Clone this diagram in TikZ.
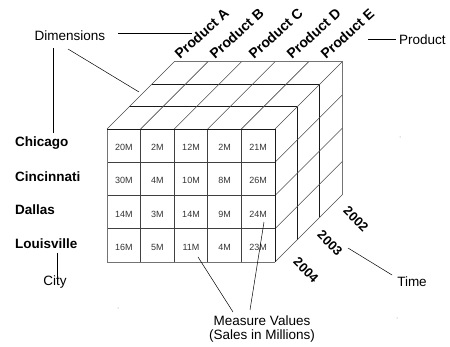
\documentclass[tikz,border=0pt]{standalone}
\usepackage{fontspec}
\setmainfont{Liberation Sans}
\begin{document}
\begin{tikzpicture}[x=1pt,y=-1pt,
  lbl/.style={inner sep=0pt,font=\fontsize{13.5}{14}\selectfont},
  blbl/.style={inner sep=0pt,font=\fontsize{13}{14}\selectfont\bfseries},
  plbl/.style={inner sep=0pt,font=\fontsize{14}{14}\selectfont\bfseries,rotate=42,anchor=base west},
  val/.style={inner sep=0pt,font=\fontsize{9}{10}\selectfont,text=black!80},
  edge/.style={draw=black!55,line width=0.6pt},
  inner/.style={draw=black!90,line width=0.7pt},
  diag/.style={draw=black!70,line width=0.6pt},
  front/.style={draw=black!75,line width=0.7pt},
  lead/.style={draw=black,line width=0.5pt}]
\useasboundingbox (0,0) rectangle (450,347);
\def\cw{33.6}\def\rh{33.25}\def\dd{22.4}
% top face
\foreach \k in {1,2} {
  \draw[inner] ({107+\k*\dd},{129-\k*\dd}) -- ({275+\k*\dd},{129-\k*\dd});
  \draw[inner] ({275+\k*\dd},{129-\k*\dd}) -- ({275+\k*\dd},{262-\k*\dd});
}
\draw[edge] ({107+3*\dd},{129-3*\dd}) -- ({275+3*\dd},{129-3*\dd}) -- ({275+3*\dd},{262-3*\dd});
\foreach \i in {0,...,5}
  \draw[diag] ({107+\i*\cw},129) -- ({107+\i*\cw+3*\dd},{129-3*\dd});
\foreach \j in {1,...,4}
  \draw[diag] (275,{129+\j*\rh}) -- ({275+3*\dd},{129+\j*\rh-3*\dd});
% front face
\foreach \i in {1,...,4}
  \draw[front] ({107+\i*\cw},129) -- ({107+\i*\cw},262);
\foreach \j in {1,...,3}
  \draw[front] (107,{129+\j*\rh}) -- (275,{129+\j*\rh});
\draw[edge] (275,262) -- (107,262) -- (107,129);
\draw[inner] (107,129) -- (275,129) -- (275,262);
% values
\foreach \row [count=\j from 0] in {{20M,2M,12M,2M,21M},{30M,4M,10M,8M,26M},{14M,3M,14M,9M,24M},{16M,5M,11M,4M,23M}} {
  \foreach \v [count=\i from 0] in \row
    \node[val] (v\j\i) at ({107+(\i+0.5)*\cw},{129+(\j+0.5)*\rh+2}) {\v};
}
% product labels
\node[plbl] (pa) at (180,60) {Product A};
\node[plbl] (pb) at (215,60) {Product B};
\node[plbl] (pc) at (254,60) {Product C};
\node[plbl] (pd) at (292,60) {Product D};
\node[plbl] (pe) at (326,60) {Product E};
% city labels
\node[blbl,anchor=west,font=\fontsize{13.5}{14}\selectfont\bfseries] (chi) at (15,143) {Chicago};
\node[blbl,anchor=west,font=\fontsize{13.5}{14}\selectfont\bfseries] (cin) at (15,177) {Cincinnati};
\node[blbl,anchor=west,font=\fontsize{13.5}{14}\selectfont\bfseries] (dal) at (15,210) {Dallas};
\node[blbl,anchor=west,font=\fontsize{13.5}{14}\selectfont\bfseries] (lou) at (15,244) {Louisville};
% years
\node[blbl,rotate=-45] (y2) at (356,219) {2002};
\node[blbl,rotate=-45] (y3) at (330,243) {2003};
\node[blbl,rotate=-45] (y4) at (306,270) {2004};
% dimension labels
\node[lbl] (dim) at (70,36) {Dimensions};
\node[lbl,anchor=west] (prod) at (399,40) {Product};
\node[lbl] (city) at (55,282) {City};
\node[lbl] (time) at (412,282) {Time};
\node[lbl,align=center,font=\fontsize{13.5}{13.5}\selectfont] (meas) at (262,329) {Measure Values\\(Sales in Millions)};
% leader lines
\coordinate (d1) at (118,33); \coordinate (d1e) at (192,33);
\coordinate (d2) at (68,49);  \coordinate (d2e) at (139,92);
\coordinate (d3) at (53,48);  \coordinate (d3e) at (53,133);
\coordinate (p1) at (368,39); \coordinate (p1e) at (396,39);
\coordinate (c1) at (57,253); \coordinate (c1e) at (57,278);
\coordinate (t1) at (348,248); \coordinate (t1e) at (392,275);
\coordinate (m1) at (198,257); \coordinate (m1e) at (233,312);
\coordinate (m2) at (264,222); \coordinate (m2e) at (250,310);
\draw[lead] (d1) -- (d1e);
\draw[lead] (d2) -- (d2e);
\draw[lead] (d3) -- (d3e);
\draw[lead] (p1) -- (p1e);
\draw[lead] (c1) -- (c1e);
\draw[lead] (t1) -- (t1e);
\draw[lead] (m1) -- (m1e);
\draw[lead] (m2) -- (m2e);
% specks
\fill[black!50] (400,137) circle (0.5);
\fill[black!50] (397,318) circle (0.5);
\fill[black!50] (118,308) circle (0.5);
\end{tikzpicture}
\end{document}
